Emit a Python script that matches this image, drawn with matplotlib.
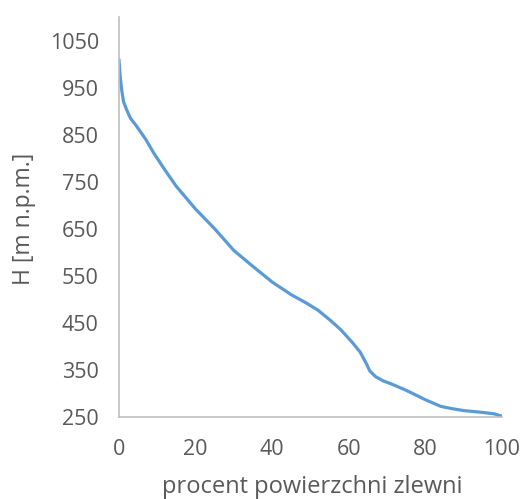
import matplotlib
matplotlib.use("Agg")
import matplotlib.pyplot as plt

percent = [0, 0.3, 0.7, 1.2, 2, 3, 4.6, 7, 9, 12, 15, 20, 25, 30, 35, 40, 45, 49, 52, 55, 58, 61, 63, 64.5, 65.5, 67, 69, 71, 75, 80, 84, 87, 90, 95, 98, 100]
height = [1010, 975, 946, 920, 903, 885, 868, 840, 812, 775, 740, 692, 650, 604, 570, 537, 510, 492, 477, 457, 435, 408, 388, 365, 348, 336, 327, 321, 307, 287, 273, 268, 264, 260, 257, 252]

xticks = [0, 20, 40, 60, 80, 100]
yticks = [250, 350, 450, 550, 650, 750, 850, 950, 1050]

plt.rcParams['font.family'] = ['Open Sans', 'DejaVu Sans']
fig = plt.figure(figsize=(5.24, 4.99), dpi=100)
ax = fig.add_axes([0.227, 0.164, 0.731, 0.802])
ax.plot(percent, height, color='#5B9BD5', lw=2.3, solid_capstyle='round', solid_joinstyle='round')
ax.set_xlim(0, 100)
ax.set_ylim(250, 1100)
ax.set_xticks(xticks)
ax.set_yticks(yticks)
for s in ['top', 'right']:
    ax.spines[s].set_visible(False)
for s in ['left', 'bottom']:
    ax.spines[s].set_color('#BFBFBF')
    ax.spines[s].set_linewidth(1.2)
ax.tick_params(length=0, labelsize=15.5, colors='#595959')
ax.tick_params(axis='y', pad=14.5)
ax.tick_params(axis='x', pad=16)
fig.text(312/524, 1-487/499, 'procent powierzchni zlewni', fontsize=17, color='#595959', ha='center', va='center')
fig.text(24/524, 1-219/499, 'H [m n.p.m.]', fontsize=16.5, color='#595959', ha='center', va='center', rotation=90)
fig.savefig('out.png', dpi=100)
